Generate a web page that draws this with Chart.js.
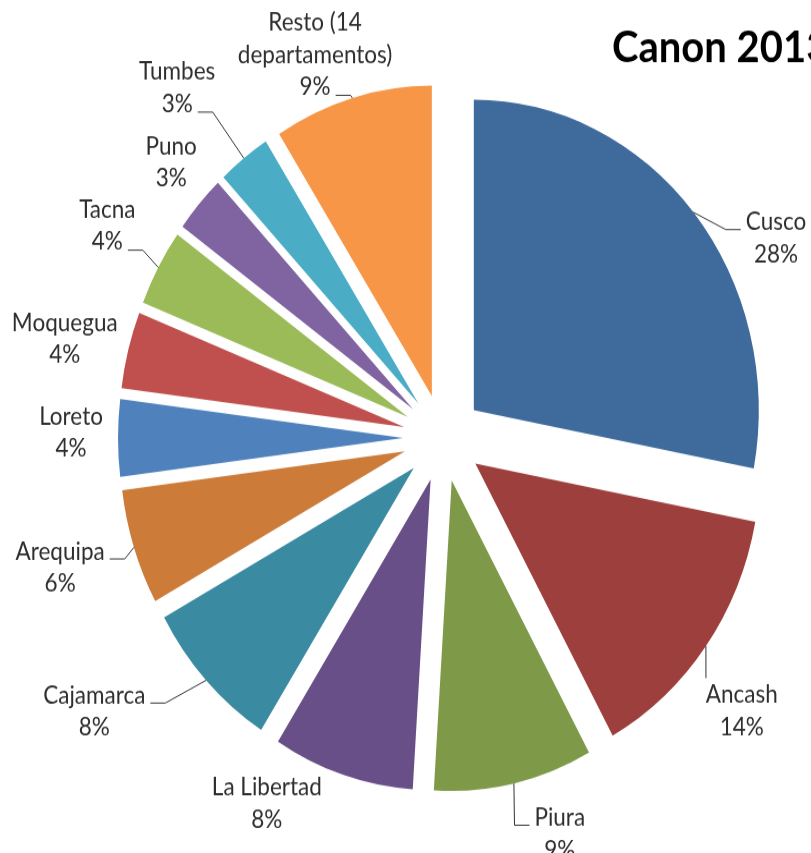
<!DOCTYPE html>
<html>
<head>
<meta charset="utf-8">
<script src="https://cdn.jsdelivr.net/npm/chart.js@4.4.1/dist/chart.umd.min.js"></script>
<style>
html,body{margin:0;padding:0;background:#ffffff;overflow:hidden;}
canvas{display:block;}
</style>
</head>
<body>
<canvas id="c" width="811" height="783" style="width:811px;height:853px;"></canvas>
<script>
// ---- data ----
const chartTitle = 'Canon 2013';
const categories = ['Cusco', 'Ancash', 'Piura', 'La Libertad', 'Cajamarca', 'Arequipa',
                    'Loreto', 'Moquegua', 'Tacna', 'Puno', 'Tumbes', 'Resto (14 departamentos)'];
const shares = [28, 14, 9, 8, 8, 6, 4, 4, 4, 3, 3, 9];

// ---- styles / layout (kept apart from data) ----
const sliceColors = ['#3F6A9C', '#9D403D', '#7E9A48', '#684F87', '#3A8BA1', '#CC7B38',
                     '#4F81BD', '#C0504D', '#9BBB59', '#8064A2', '#4BACC6', '#F79646'];
const labelDistance = [380, 390, 382, 379, 430, 401, 372, 389, 388, 371, 417, 374];
const labelAngleNudge = [10.8, 4, -5.2, 9.7, 7.4, 0.7, 0.7, -0.9, 1.3, 1.5, -1.8, -3.8];
const showLeader = [true, true, true, false, true, true, false, false, true, false, true, true];
const EXPLODE = 40;
const LABEL_FONT = '22.5px Lato';
const LINE_H = 29.4;
const TEXT_COLOR = '#2e2e2e';

function wrapText(ctx, text, maxW) {
  const words = text.split(' ');
  const lines = [];
  let cur = '';
  words.forEach(w => {
    const t = cur ? cur + ' ' + w : w;
    if (ctx.measureText(t).width > maxW && cur) { lines.push(cur); cur = w; }
    else cur = t;
  });
  if (cur) lines.push(cur);
  return lines;
}

const explodePlugin = {
  id: 'explode',
  beforeDatasetDraw(chart, args) {
    const ctx = chart.ctx;
    args.meta.data.forEach(arc => {
      const mid = (arc.startAngle + arc.endAngle) / 2;
      ctx.save();
      ctx.translate(Math.cos(mid) * EXPLODE, Math.sin(mid) * EXPLODE);
      arc.draw(ctx);
      ctx.restore();
    });
    return false;
  }
};

const labelPlugin = {
  id: 'sliceLabels',
  afterDraw(chart) {
    const ctx = chart.ctx;
    const meta = chart.getDatasetMeta(0);
    const total = shares.reduce((a, b) => a + b, 0);
    ctx.save();
    ctx.font = LABEL_FONT;
    ctx.fillStyle = TEXT_COLOR;
    ctx.textAlign = 'center';
    ctx.textBaseline = 'middle';
    meta.data.forEach((arc, i) => {
      const mid = (arc.startAngle + arc.endAngle) / 2;
      const ax = arc.x + Math.cos(mid) * EXPLODE;
      const ay = arc.y + Math.sin(mid) * EXPLODE;
      const P = {x: ax + Math.cos(mid) * arc.outerRadius, y: ay + Math.sin(mid) * arc.outerRadius};
      const la = mid + labelAngleNudge[i] * Math.PI / 180;
      const L = {x: arc.x + Math.cos(la) * labelDistance[i], y: arc.y + Math.sin(la) * labelDistance[i]};
      const lines = wrapText(ctx, categories[i], 160);
      lines.push(Math.round(shares[i] / total * 100) + '%');
      const top = L.y - lines.length * LINE_H / 2;
      lines.forEach((t, k) => ctx.fillText(t, L.x, top + LINE_H * (k + 0.5)));

      if (showLeader[i]) {
        ctx.strokeStyle = '#333333';
        ctx.lineWidth = 1;
        ctx.beginPath();
        const firstW = ctx.measureText(lines[0]).width;
        if (P.x > L.x - firstW / 2 && P.x < L.x + firstW / 2 && P.y < top) {
          ctx.moveTo(P.x, P.y);
          ctx.lineTo(P.x, top + LINE_H * 0.5 - 15.5);
        } else {
          let ey, w;
          if (P.y < L.y) { ey = top + LINE_H * 0.5 + 6.5; w = firstW; }
          else { ey = top + LINE_H * (lines.length - 0.5) + 7.5; w = ctx.measureText(lines[lines.length - 1]).width; }
          const side = P.x > L.x ? 1 : -1;
          const ex = L.x + side * (w / 2 + 5);
          const kx = ex + side * 15;
          ctx.moveTo(P.x, P.y);
          ctx.lineTo(kx, ey);
          ctx.lineTo(ex, ey);
        }
        ctx.stroke();
      }
    });
    // title (runs past the right edge as in the original)
    ctx.font = 'bold 40px Lato';
    ctx.fillStyle = '#000000';
    ctx.textAlign = 'left';
    ctx.textBaseline = 'alphabetic';
    ctx.fillText(chartTitle, 612, 56.5);
    ctx.restore();
  }
};

new Chart(document.getElementById('c').getContext('2d'), {
  type: 'pie',
  data: {
    labels: categories,
    datasets: [{
      data: shares,
      backgroundColor: sliceColors,
      borderWidth: 0,
      radius: 285
    }]
  },
  options: {
    responsive: false,
    animation: false,
    devicePixelRatio: 1,
    events: [],
    layout: {padding: {left: 75, top: 21, right: 0, bottom: 0}},
    plugins: {legend: {display: false}, tooltip: {enabled: false}, title: {display: false}}
  },
  plugins: [explodePlugin, labelPlugin]
});
</script>
</body>
</html>
